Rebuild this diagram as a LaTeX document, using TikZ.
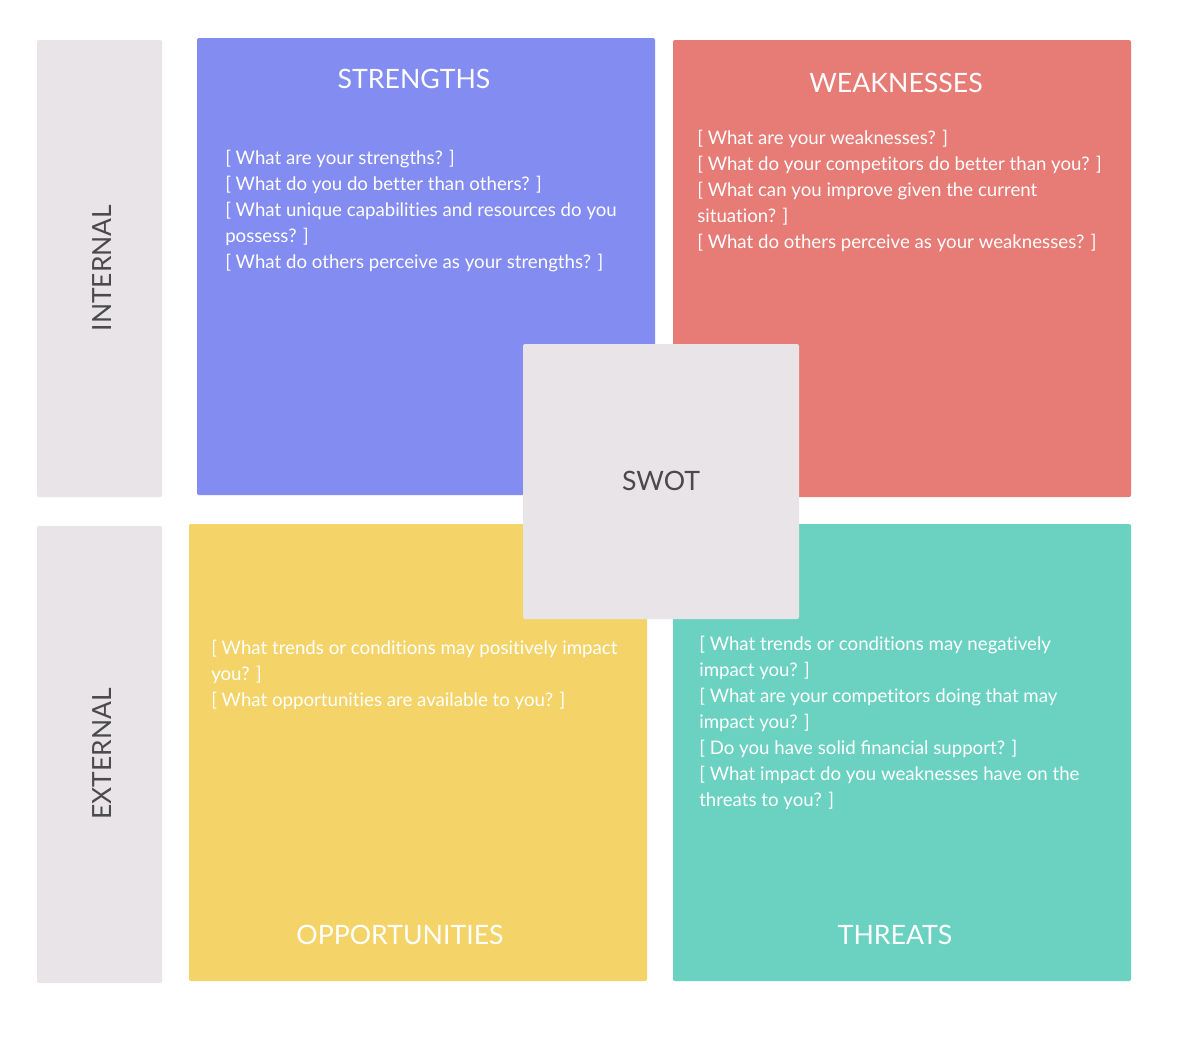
\documentclass[tikz,border=0pt]{standalone}
\usepackage{fontspec}
\setmainfont{Lato}[Ligatures=NoCommon]
\usepackage{xcolor}
\definecolor{strcol}{HTML}{838CF0}
\definecolor{weakcol}{HTML}{E77B76}
\definecolor{oppcol}{HTML}{F4D469}
\definecolor{thrcol}{HTML}{6BD2C2}
\definecolor{sidecol}{HTML}{E8E4E8}
\definecolor{inkcol}{HTML}{4A4A4A}
\tikzset{
  title/.style={text=white, font=\fontsize{20}{24}\selectfont, inner sep=0pt},
  body/.style={text=white, font=\fontsize{14}{19.5}\selectfont, anchor=north west, inner sep=0pt, align=left},
  side/.style={text=inkcol, font=\fontsize{19.8}{24}\selectfont, inner sep=0pt, rotate=90}
}
\begin{document}
\begin{tikzpicture}[x=0.75pt,y=0.75pt,yscale=-1,xscale=1]
\path[use as bounding box, fill=white] (0,0) rectangle (1180,1058);

%Shape: side bars
\fill[sidecol, rounded corners=1.5pt] (37,40) rectangle (162,497);
\fill[sidecol, rounded corners=1.5pt] (37,526) rectangle (162,983);
%Shape: quadrants
\fill[strcol, rounded corners=1.5pt] (197,38) rectangle (655,495);
\fill[weakcol, rounded corners=1.5pt] (673,40) rectangle (1131,497);
\fill[oppcol, rounded corners=1.5pt] (189,524) rectangle (647,981);
\fill[thrcol, rounded corners=1.5pt] (673,524) rectangle (1131,981);
%Shape: centre square
\fill[sidecol, rounded corners=1.5pt] (523,344) rectangle (799,619);

% Text Node
\node[side] (internal) at (102,268) {INTERNAL};
\node[side] (external) at (102,754) {EXTERNAL};
% Text Node
\node[text=inkcol, font=\fontsize{20}{24}\selectfont, inner sep=0pt] (swot) at (661,481) {SWOT};
% Text Node
\node[title] (strengths) at (414,79) {STRENGTHS};
\node[title] (weaknesses) at (896,83) {WEAKNESSES};
\node[title] (opportunities) at (400,935) {OPPORTUNITIES};
\node[title] (threats) at (895,935) {THREATS};
% Text Node
\node[body] (strtext) at (225,150) {{[} What are your strengths? ]\\
{[} What do you do better than others? ]\\
{[} What unique capabilities and resources do you\\
possess? ]\\
{[} What do others perceive as your strengths? ]};
% Text Node
\node[body] (weaktext) at (697,130) {{[} What are your weaknesses? ]\\
{[} What do your competitors do better than you? ]\\
{[} What can you improve given the current\\
situation? ]\\
{[} What do others perceive as your weaknesses? ]};
% Text Node
\node[body] (opptext) at (211,640) {{[} What trends or conditions may positively impact\\
you? ]\\
{[} What opportunities are available to you? ]};
% Text Node
\node[body] (thrtext) at (699,636) {{[} What trends or conditions may negatively\\
impact you? ]\\
{[} What are your competitors doing that may\\
impact you? ]\\
{[} Do you have solid ﬁnancial support? ]\\
{[} What impact do you weaknesses have on the\\
threats to you? ]};

\end{tikzpicture}
\end{document}
